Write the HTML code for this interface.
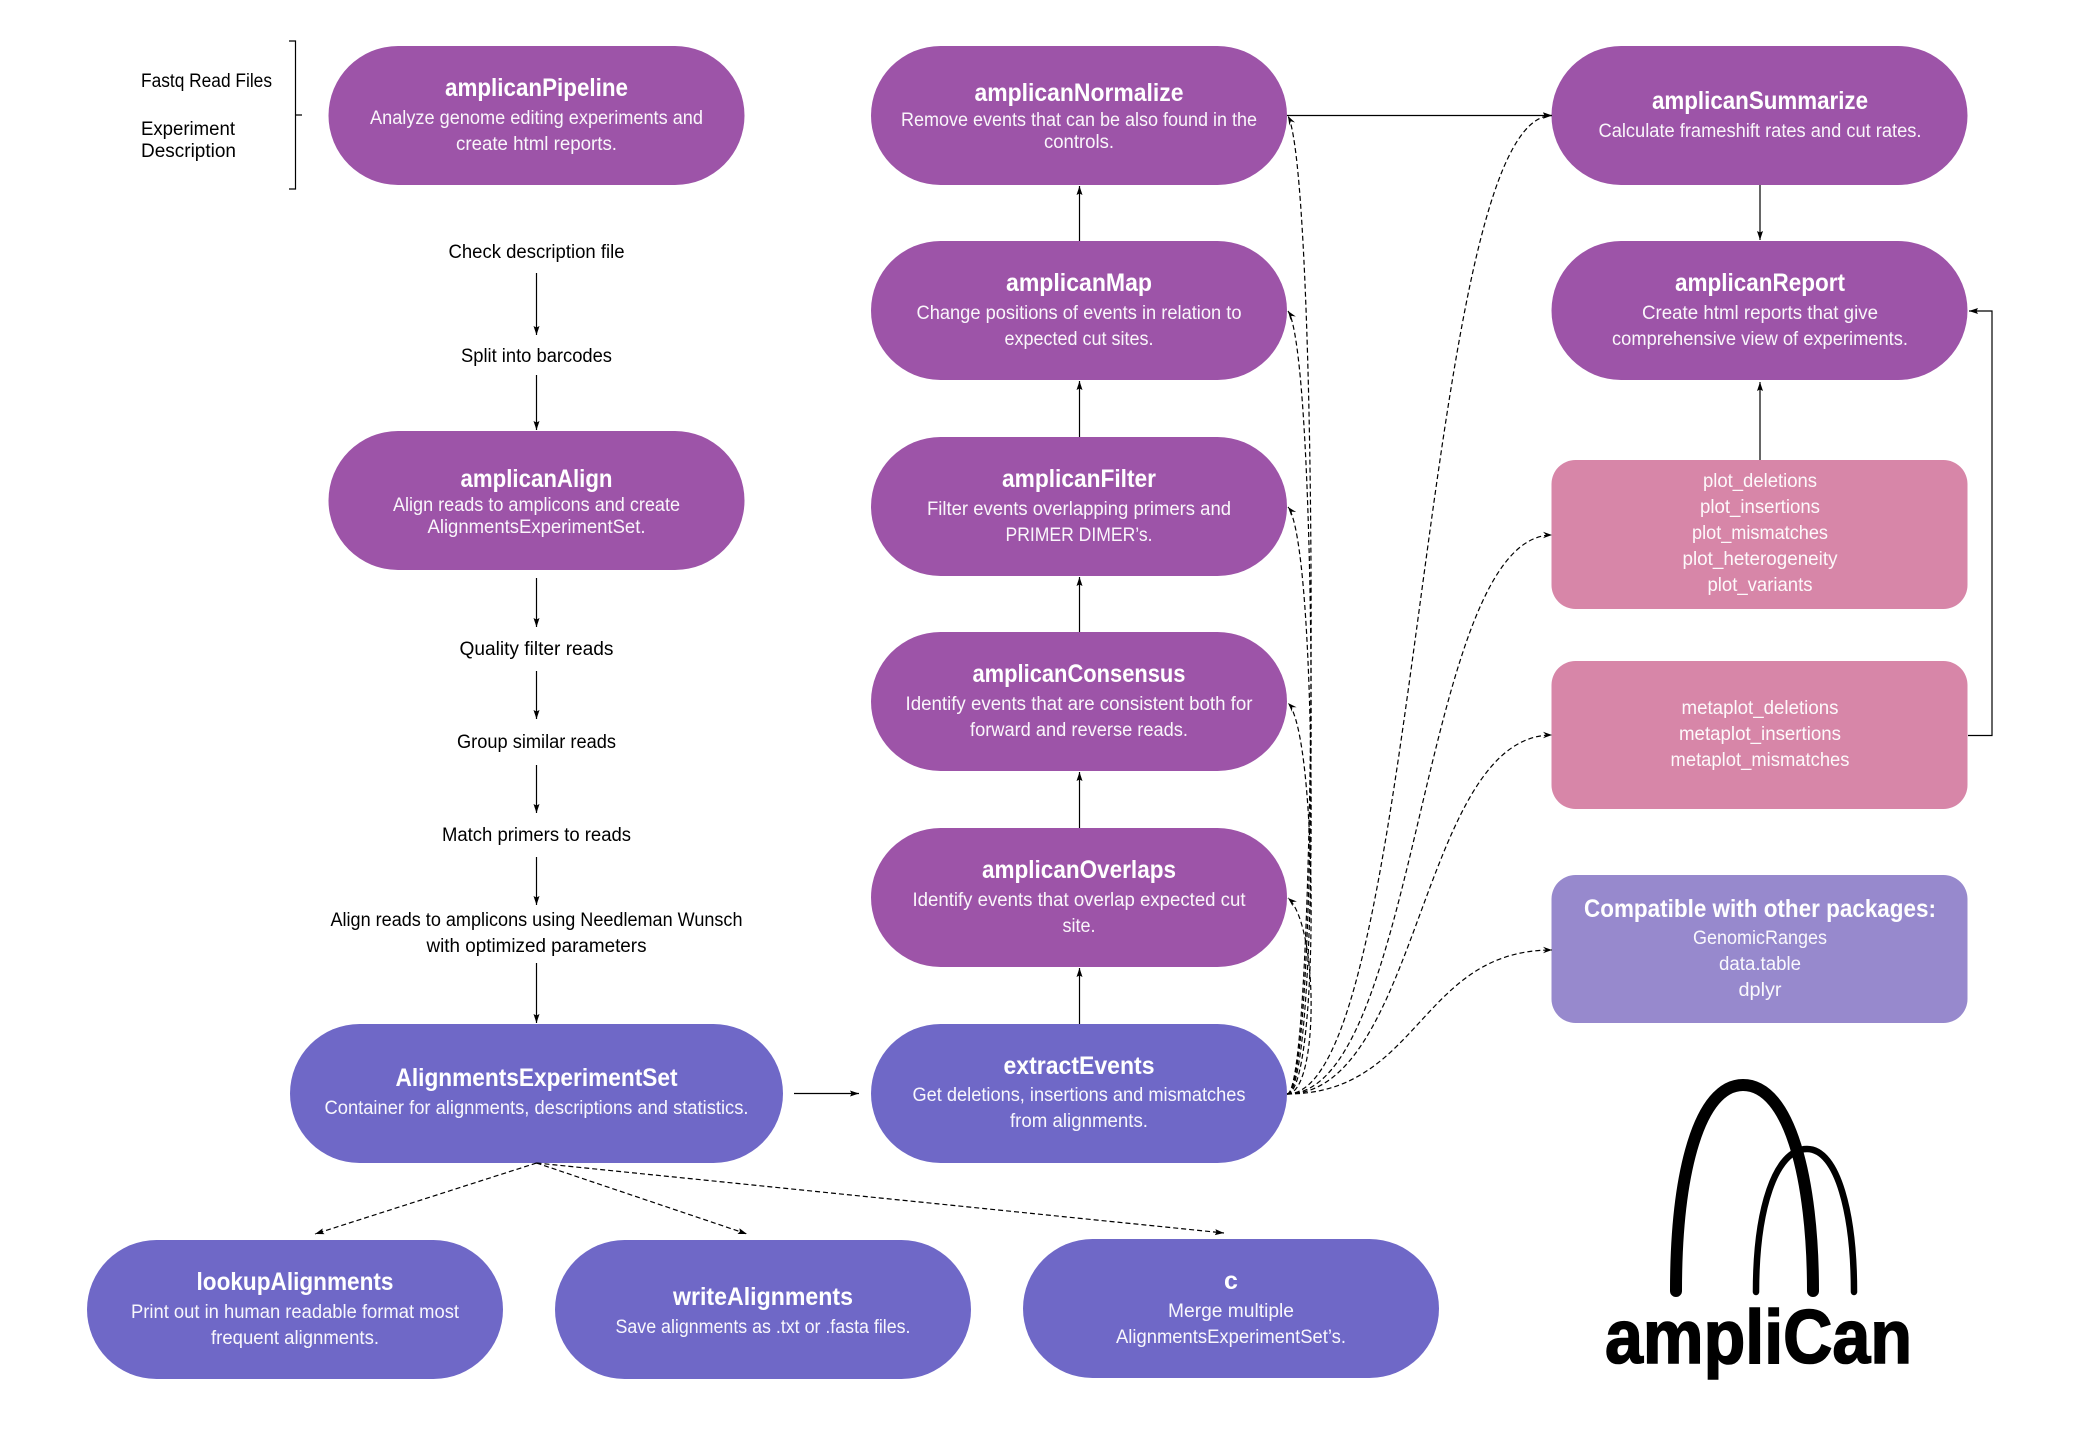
<!DOCTYPE html>
<html lang="en">
<head>
<meta charset="utf-8">
<title>ampliCan workflow</title>
<style>
html,body{margin:0;padding:0;background:#fff;}
svg{display:block;}
text{font-family:"Liberation Sans",Arial,sans-serif;text-anchor:middle;}
.t{font-size:25px;font-weight:bold;fill:#fff;}
.b{font-size:19px;fill:#fff;fill-opacity:.95;}
.k{font-size:19px;fill:#000;}
.l{text-anchor:start;}
.s{fill:none;stroke:#000;stroke-width:1.2;}
.d{fill:none;stroke:#000;stroke-width:1.2;stroke-dasharray:5 3;}
</style>
</head>
<body>
<svg xmlns="http://www.w3.org/2000/svg" width="2098" height="1440" viewBox="0 0 2098 1440">
<defs>
<marker id="a" markerUnits="userSpaceOnUse" markerWidth="12" markerHeight="10" refX="9" refY="4" orient="auto"><path d="M0 1 L9 4 L0 7 L1.5 4 Z" fill="#000"/></marker>
<marker id="o" markerUnits="userSpaceOnUse" markerWidth="12" markerHeight="10" refX="9" refY="4" orient="auto"><path d="M0 0.8 L9 4 L0 7.2 L3 4 Z" fill="#000"/></marker>
</defs>
<rect width="2098" height="1440" fill="#fff"/>

<!-- pills -->
<g fill="#9d54a8">
<rect x="328.5" y="46" width="416" height="139" rx="69.5"/>
<rect x="328.5" y="431" width="416" height="139" rx="69.5"/>
<rect x="871" y="46" width="416" height="139" rx="69.5"/>
<rect x="871" y="241" width="416" height="139" rx="69.5"/>
<rect x="871" y="437" width="416" height="139" rx="69.5"/>
<rect x="871" y="632" width="416" height="139" rx="69.5"/>
<rect x="871" y="828" width="416" height="139" rx="69.5"/>
<rect x="1551.5" y="46" width="416" height="139" rx="69.5"/>
<rect x="1551.5" y="241" width="416" height="139" rx="69.5"/>
</g>
<g fill="#6f68c7">
<rect x="290" y="1024" width="493" height="139" rx="69.5"/>
<rect x="871" y="1024" width="416" height="139" rx="69.5"/>
<rect x="87" y="1240" width="416" height="139" rx="69.5"/>
<rect x="555" y="1240" width="416" height="139" rx="69.5"/>
<rect x="1023" y="1239" width="416" height="139" rx="69.5"/>
</g>
<rect x="1551.5" y="460" width="416" height="149" rx="24" fill="#d786a8"/>
<rect x="1551.5" y="661" width="416" height="148" rx="24" fill="#d786a8"/>
<rect x="1551.5" y="875" width="416" height="148" rx="24" fill="#9789cd"/>

<!-- bracket -->
<path class="s" d="M289 41 H295.5 V189 H289 M295.5 115 H302"/>

<!-- solid connectors -->
<g class="s">
<path d="M536.5 273 V335" marker-end="url(#a)"/>
<path d="M536.5 375 V430" marker-end="url(#a)"/>
<path d="M536.5 578 V627" marker-end="url(#a)"/>
<path d="M536.5 671 V719" marker-end="url(#a)"/>
<path d="M536.5 765 V813" marker-end="url(#a)"/>
<path d="M536.5 857 V905" marker-end="url(#a)"/>
<path d="M536.5 963 V1023" marker-end="url(#a)"/>
<path d="M794 1093.5 H859" marker-end="url(#a)"/>
<path d="M1079.5 1024 V968" marker-end="url(#a)"/>
<path d="M1079.5 828 V772" marker-end="url(#a)"/>
<path d="M1079.5 632 V577" marker-end="url(#a)"/>
<path d="M1079.5 437 V381" marker-end="url(#a)"/>
<path d="M1079.5 241 V186" marker-end="url(#a)"/>
<path d="M1287 115.5 H1552" marker-end="url(#a)"/>
<path d="M1760 185 V240" marker-end="url(#a)"/>
<path d="M1760 460 V382" marker-end="url(#a)"/>
<path d="M1968 735.5 H1992 V311 H1969" marker-end="url(#a)"/>
</g>

<!-- dashed connectors -->
<path class="d" d="M536.5 1163 L315 1234" marker-end="url(#a)"/>
<path class="d" d="M536.5 1163 L747 1234" marker-end="url(#a)"/>
<path class="d" d="M536.5 1163 L1224 1233" marker-end="url(#a)"/>
<path class="d" d="M1287 1094 C1319 1094 1319 175 1288 116" marker-end="url(#o)"/>
<path class="d" d="M1287 1094 C1319 1094 1319 355 1288 311" marker-end="url(#o)"/>
<path class="d" d="M1287 1094 C1319 1094 1319 545 1288 507" marker-end="url(#o)"/>
<path class="d" d="M1287 1094 C1319 1094 1319 735 1288 703" marker-end="url(#o)"/>
<path class="d" d="M1287 1094 C1319 1094 1319 925 1288 898" marker-end="url(#o)"/>
<path class="d" d="M1287 1094 C1420 1094 1420 115.5 1552 115.5" marker-end="url(#o)"/>
<path class="d" d="M1287 1094 C1420 1094 1420 535 1552 535" marker-end="url(#o)"/>
<path class="d" d="M1287 1094 C1420 1094 1420 735 1552 735" marker-end="url(#o)"/>
<path class="d" d="M1287 1094 C1420 1094 1420 950 1552 950" marker-end="url(#o)"/>

<!-- black labels -->
<text class="k l" x="141" y="87" textLength="131" lengthAdjust="spacingAndGlyphs">Fastq Read Files</text>
<text class="k l" x="141" y="135" textLength="94" lengthAdjust="spacingAndGlyphs">Experiment</text>
<text class="k l" x="141" y="157" textLength="95" lengthAdjust="spacingAndGlyphs">Description</text>
<text class="k" x="536.5" y="258" textLength="176" lengthAdjust="spacingAndGlyphs">Check description file</text>
<text class="k" x="536.5" y="362" textLength="151" lengthAdjust="spacingAndGlyphs">Split into barcodes</text>
<text class="k" x="536.5" y="655" textLength="154" lengthAdjust="spacingAndGlyphs">Quality filter reads</text>
<text class="k" x="536.5" y="748" textLength="159" lengthAdjust="spacingAndGlyphs">Group similar reads</text>
<text class="k" x="536.5" y="841" textLength="189" lengthAdjust="spacingAndGlyphs">Match primers to reads</text>
<text class="k" x="536.5" y="926" textLength="412" lengthAdjust="spacingAndGlyphs">Align reads to amplicons using Needleman Wunsch</text>
<text class="k" x="536.5" y="952" textLength="220" lengthAdjust="spacingAndGlyphs">with optimized parameters</text>

<!-- left column -->
<text class="t" x="536.5" y="96" textLength="183" lengthAdjust="spacingAndGlyphs">amplicanPipeline</text>
<text class="b" x="536.5" y="124" textLength="333" lengthAdjust="spacingAndGlyphs">Analyze genome editing experiments and</text>
<text class="b" x="536.5" y="150" textLength="161" lengthAdjust="spacingAndGlyphs">create html reports.</text>
<text class="t" x="536.5" y="487" textLength="152" lengthAdjust="spacingAndGlyphs">amplicanAlign</text>
<text class="b" x="536.5" y="511" textLength="287" lengthAdjust="spacingAndGlyphs">Align reads to amplicons and create</text>
<text class="b" x="536.5" y="533" textLength="218" lengthAdjust="spacingAndGlyphs">AlignmentsExperimentSet.</text>
<text class="t" x="536.5" y="1086" textLength="282" lengthAdjust="spacingAndGlyphs">AlignmentsExperimentSet</text>
<text class="b" x="536.5" y="1114" textLength="424" lengthAdjust="spacingAndGlyphs">Container for alignments, descriptions and statistics.</text>

<!-- middle column -->
<text class="t" x="1079" y="101" textLength="209" lengthAdjust="spacingAndGlyphs">amplicanNormalize</text>
<text class="b" x="1079" y="126" textLength="356" lengthAdjust="spacingAndGlyphs">Remove events that can be also found in the</text>
<text class="b" x="1079" y="148" textLength="70" lengthAdjust="spacingAndGlyphs">controls.</text>
<text class="t" x="1079" y="291" textLength="146" lengthAdjust="spacingAndGlyphs">amplicanMap</text>
<text class="b" x="1079" y="319" textLength="325" lengthAdjust="spacingAndGlyphs">Change positions of events in relation to</text>
<text class="b" x="1079" y="345" textLength="149" lengthAdjust="spacingAndGlyphs">expected cut sites.</text>
<text class="t" x="1079" y="487" textLength="154" lengthAdjust="spacingAndGlyphs">amplicanFilter</text>
<text class="b" x="1079" y="515" textLength="304" lengthAdjust="spacingAndGlyphs">Filter events overlapping primers and</text>
<text class="b" x="1079" y="541" textLength="147" lengthAdjust="spacingAndGlyphs">PRIMER DIMER’s.</text>
<text class="t" x="1079" y="682" textLength="213" lengthAdjust="spacingAndGlyphs">amplicanConsensus</text>
<text class="b" x="1079" y="710" textLength="347" lengthAdjust="spacingAndGlyphs">Identify events that are consistent both for</text>
<text class="b" x="1079" y="736" textLength="218" lengthAdjust="spacingAndGlyphs">forward and reverse reads.</text>
<text class="t" x="1079" y="878" textLength="194" lengthAdjust="spacingAndGlyphs">amplicanOverlaps</text>
<text class="b" x="1079" y="906" textLength="333" lengthAdjust="spacingAndGlyphs">Identify events that overlap expected cut</text>
<text class="b" x="1079" y="932" textLength="33" lengthAdjust="spacingAndGlyphs">site.</text>
<text class="t" x="1079" y="1074" textLength="151" lengthAdjust="spacingAndGlyphs">extractEvents</text>
<text class="b" x="1079" y="1101" textLength="333" lengthAdjust="spacingAndGlyphs">Get deletions, insertions and mismatches</text>
<text class="b" x="1079" y="1127" textLength="138" lengthAdjust="spacingAndGlyphs">from alignments.</text>

<!-- right column -->
<text class="t" x="1760" y="109" textLength="216" lengthAdjust="spacingAndGlyphs">amplicanSummarize</text>
<text class="b" x="1760" y="137" textLength="323" lengthAdjust="spacingAndGlyphs">Calculate frameshift rates and cut rates.</text>
<text class="t" x="1760" y="291" textLength="170" lengthAdjust="spacingAndGlyphs">amplicanReport</text>
<text class="b" x="1760" y="319" textLength="236" lengthAdjust="spacingAndGlyphs">Create html reports that give</text>
<text class="b" x="1760" y="345" textLength="296" lengthAdjust="spacingAndGlyphs">comprehensive view of experiments.</text>
<text class="b" x="1760" y="487" textLength="114" lengthAdjust="spacingAndGlyphs">plot_deletions</text>
<text class="b" x="1760" y="513" textLength="120" lengthAdjust="spacingAndGlyphs">plot_insertions</text>
<text class="b" x="1760" y="539" textLength="136" lengthAdjust="spacingAndGlyphs">plot_mismatches</text>
<text class="b" x="1760" y="565" textLength="155" lengthAdjust="spacingAndGlyphs">plot_heterogeneity</text>
<text class="b" x="1760" y="591" textLength="105" lengthAdjust="spacingAndGlyphs">plot_variants</text>
<text class="b" x="1760" y="714" textLength="157" lengthAdjust="spacingAndGlyphs">metaplot_deletions</text>
<text class="b" x="1760" y="740" textLength="162" lengthAdjust="spacingAndGlyphs">metaplot_insertions</text>
<text class="b" x="1760" y="766" textLength="179" lengthAdjust="spacingAndGlyphs">metaplot_mismatches</text>
<text class="t" x="1760" y="917" textLength="352" lengthAdjust="spacingAndGlyphs">Compatible with other packages:</text>
<text class="b" x="1760" y="944" textLength="134" lengthAdjust="spacingAndGlyphs">GenomicRanges</text>
<text class="b" x="1760" y="970" textLength="82" lengthAdjust="spacingAndGlyphs">data.table</text>
<text class="b" x="1760" y="996" textLength="43" lengthAdjust="spacingAndGlyphs">dplyr</text>

<!-- bottom row -->
<text class="t" x="295" y="1290" textLength="197" lengthAdjust="spacingAndGlyphs">lookupAlignments</text>
<text class="b" x="295" y="1318" textLength="328" lengthAdjust="spacingAndGlyphs">Print out in human readable format most</text>
<text class="b" x="295" y="1344" textLength="168" lengthAdjust="spacingAndGlyphs">frequent alignments.</text>
<text class="t" x="763" y="1305" textLength="180" lengthAdjust="spacingAndGlyphs">writeAlignments</text>
<text class="b" x="763" y="1333" textLength="295" lengthAdjust="spacingAndGlyphs">Save alignments as .txt or .fasta files.</text>
<text class="t" x="1231" y="1289">c</text>
<text class="b" x="1231" y="1317" textLength="126" lengthAdjust="spacingAndGlyphs">Merge multiple</text>
<text class="b" x="1231" y="1343" textLength="230" lengthAdjust="spacingAndGlyphs">AlignmentsExperimentSet’s.</text>

<!-- logo -->
<path d="M1676 1291 C1676 1170 1700 1085 1743 1085 C1790 1085 1813 1180 1813 1291" fill="none" stroke="#000" stroke-width="12" stroke-linecap="round"/>
<path d="M1756 1292 C1756 1210 1775 1149 1807 1149 C1838 1149 1854 1215 1854 1292" fill="none" stroke="#000" stroke-width="6.5" stroke-linecap="round"/>
<text x="1758.5" y="1363" textLength="307" lengthAdjust="spacingAndGlyphs" style="font-size:76px;font-weight:bold;fill:#000;stroke:#000;stroke-width:1.6;">ampliCan</text>
</svg>
</body>
</html>
